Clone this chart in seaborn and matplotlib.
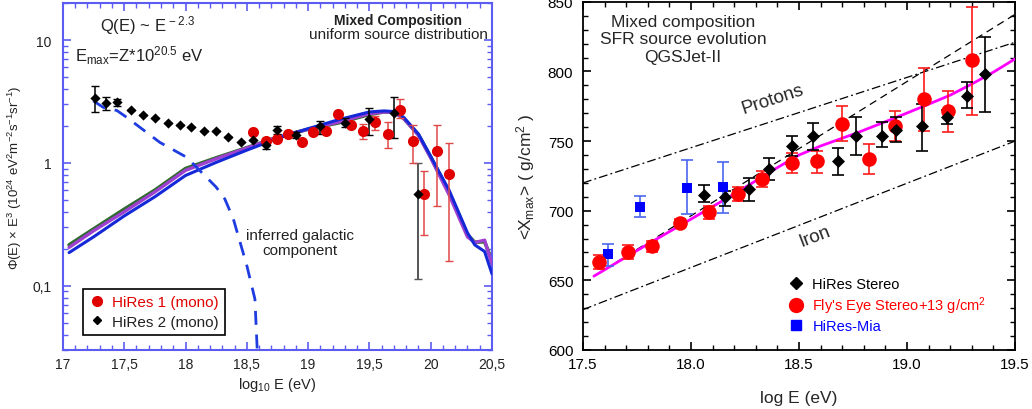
import numpy as np
import matplotlib
matplotlib.use("Agg")
import matplotlib.pyplot as plt
import seaborn as sns
from matplotlib.ticker import FixedLocator, MultipleLocator, FuncFormatter, NullFormatter
from matplotlib.lines import Line2D

# ---------------- LEFT PANEL DATA ----------------
hr2_x = [17.26, 17.35, 17.44, 17.555, 17.65, 17.75, 17.854, 17.954, 18.047, 18.148, 18.248,
         18.348, 18.452, 18.55, 18.653, 18.748, 18.898, 19.10, 19.30, 19.50, 19.70, 19.893]
hr2_y = [3.40, 3.06, 3.11, 2.68, 2.44, 2.31, 2.13, 2.05, 1.97, 1.81, 1.81,
         1.64, 1.47, 1.53, 1.41, 1.84, 1.70, 2.00, 2.13, 2.27, 2.56, 0.56]
hr2_lo = [2.58, 2.70, 2.92, 2.68, 2.44, 2.31, 2.13, 2.05, 1.97, 1.81, 1.81,
          1.64, 1.47, 1.53, 1.29, 1.71, 1.60, 1.72, 1.95, 1.68, 1.59, 0.114]
hr2_hi = [4.20, 3.46, 3.32, 2.68, 2.44, 2.31, 2.13, 2.05, 1.97, 1.81, 1.81,
          1.64, 1.47, 1.53, 1.55, 2.01, 1.80, 2.21, 2.30, 2.82, 3.42, 1.00]

hr1_x = [18.547, 18.653, 18.748, 18.84, 18.95, 19.04, 19.15, 19.245, 19.35, 19.45, 19.547,
         19.65, 19.75, 19.852, 19.947, 20.05, 20.148]
hr1_y = [1.80, 1.52, 1.57, 1.72, 1.49, 1.80, 1.83, 2.50, 2.05, 1.82, 2.14,
         1.73, 2.71, 1.52, 0.56, 1.24, 0.81]
hr1_lo = [1.80, 1.52, 1.57, 1.72, 1.49, 1.80, 1.83, 2.50, 2.05, 1.57, 1.85,
          1.33, 2.31, 1.00, 0.26, 0.45, 0.16]
hr1_hi = [1.80, 1.52, 1.57, 1.72, 1.49, 1.80, 1.83, 2.50, 2.05, 2.07, 2.40,
          2.17, 3.31, 2.04, 0.866, 2.04, 1.45]

model_x = [17.05, 17.25, 17.5, 17.75, 18.0, 18.25, 18.5, 18.75, 19.0, 19.25, 19.5,
           19.62, 19.7, 19.78, 19.9, 20.0, 20.15, 20.3, 20.36, 20.44, 20.5]
model_green = [0.215, 0.29, 0.42, 0.60, 0.90, 1.10, 1.33, 1.62, 1.88, 2.12, 2.48,
               2.60, 2.60, 2.30, 1.70, 1.12, 0.58, 0.26, 0.226, 0.228, 0.16]
model_purple = [0.205, 0.28, 0.40, 0.58, 0.87, 1.08, 1.32, 1.62, 1.88, 2.15, 2.52,
                2.60, 2.58, 2.30, 1.68, 1.10, 0.55, 0.25, 0.225, 0.235, 0.15]
model_blue = [0.186, 0.25, 0.37, 0.53, 0.79, 1.01, 1.27, 1.58, 1.90, 2.25, 2.60,
              2.65, 2.62, 2.35, 1.72, 1.13, 0.60, 0.27, 0.215, 0.19, 0.125]

gal_x = [17.247, 17.33, 17.44, 17.52, 17.79, 18.01, 18.25, 18.32, 18.39, 18.50, 18.566, 18.585]
gal_y = [3.20, 2.83, 2.67, 2.35, 1.47, 1.11, 0.635, 0.51, 0.35, 0.146, 0.078, 0.03]

# ---------------- RIGHT PANEL DATA ----------------
fly_x = [17.574, 17.707, 17.818, 17.948, 18.085, 18.219, 18.327, 18.468, 18.582, 18.70,
         18.824, 18.946, 19.08, 19.188, 19.30]
fly_y = [663.0, 670.6, 674.5, 691.2, 698.9, 712.1, 722.8, 734.1, 736.0, 762.4,
         737.2, 760.9, 780.3, 771.5, 808.1]
fly_lo = [5, 5, 4, 3, 4.5, 5, 6, 7, 8.8, 12, 10.8, 11, 22.8, 15, 39.5]
fly_hi = [5, 5, 4, 3, 4.5, 5, 6, 7, 7.2, 12.7, 10.6, 11, 22, 14.5, 38]

st_x = [18.06, 18.156, 18.269, 18.362, 18.468, 18.566, 18.679, 18.763, 18.886, 18.95,
        19.068, 19.184, 19.276, 19.361]
st_y = [711.6, 710.1, 715.7, 730.0, 746.3, 753.5, 735.5, 754.0, 754.0, 758.0,
        760.7, 767.0, 782.7, 798.3]
st_lo = [5.1, 6.4, 8.4, 7.7, 6.7, 9.6, 9.6, 13.7, 8.4, 9, 17.5, 5, 8.6, 27.5]
st_hi = [7.2, 4.3, 8.0, 8.0, 7.2, 9.4, 9.4, 13.6, 9.6, 9, 16.0, 5, 9.6, 26.3]

mia_x = [17.617, 17.764, 17.98, 18.15]
mia_y = [669.0, 702.5, 716.1, 716.9]
mia_lo = [8.4, 7.2, 18.4, 18.5]
mia_hi = [7.1, 8.3, 20.0, 18.4]

mix_x = [17.55, 17.8, 18.0, 18.2, 18.4, 18.5, 18.6, 18.77, 18.95, 19.1, 19.2, 19.3, 19.4, 19.5]
mix_y = [653, 676, 694, 712, 731, 740, 746.5, 756, 767, 776.5, 783, 791, 799.5, 809]

proton_x = [17.5, 19.5]
proton_y = [720, 821]
iron_x = [17.5, 19.5]
iron_y = [629, 750]
dash_x = [17.55, 19.5]
dash_y = [653, 841]

# ---------------- STYLE ----------------
sns.set_style("ticks")
plt.rcParams['font.family'] = ['Liberation Sans', 'DejaVu Sans']
plt.rcParams['mathtext.fontset'] = 'custom'
plt.rcParams['mathtext.rm'] = 'Liberation Sans'
plt.rcParams['mathtext.it'] = 'Liberation Sans:italic'
plt.rcParams['mathtext.bf'] = 'Liberation Sans:bold'
plt.rcParams['mathtext.default'] = 'regular'

fig = plt.figure(figsize=(10.32, 4.10), dpi=100)
axL = fig.add_axes([0.061, 0.144, 0.4157, 0.846])
axR = fig.add_axes([0.565, 0.144, 0.4185, 0.849])

# ---------------- LEFT PANEL ----------------
frame_c = '#5c5cf2'
axL.set_yscale('log')
sns.lineplot(x=model_x, y=model_green, ax=axL, color='#2e6b2e', lw=2.6, zorder=2)
sns.lineplot(x=model_x, y=model_purple, ax=axL, color='#a040d0', lw=2.4, zorder=3)
sns.lineplot(x=model_x, y=model_blue, ax=axL, color='#1428d8', lw=2.2, zorder=4)
sns.lineplot(x=gal_x, y=gal_y, ax=axL, color='#1e3ce0', lw=2.0, zorder=4, dashes=False,
             linestyle=(0, (5, 3.5)))

h2y = np.array(hr2_y); h1y = np.array(hr1_y)
axL.errorbar(hr2_x[:-1], hr2_y[:-1],
             yerr=[h2y[:-1] - np.array(hr2_lo[:-1]), np.array(hr2_hi[:-1]) - h2y[:-1]],
             fmt='none', ecolor='black', elinewidth=1.1, capsize=3, zorder=5)
axL.errorbar(hr2_x[-1:], hr2_y[-1:],
             yerr=[h2y[-1:] - np.array(hr2_lo[-1:]), np.array(hr2_hi[-1:]) - h2y[-1:]],
             fmt='none', ecolor='#555555', elinewidth=1.4, capsize=3, zorder=5)
axL.errorbar(hr1_x, hr1_y, yerr=[h1y - np.array(hr1_lo), np.array(hr1_hi) - h1y],
             fmt='none', ecolor='#e04848', elinewidth=1.1, capsize=3, zorder=5)
sns.scatterplot(x=hr1_x, y=hr1_y, ax=axL, marker='o', s=64, color='#e00000',
                linewidth=0, zorder=6)
sns.scatterplot(x=hr2_x, y=hr2_y, ax=axL, marker='D', s=27, color='black',
                linewidth=0, zorder=7)

axL.set_xlim(17, 20.5)
axL.set_ylim(0.03, 20)
axL.xaxis.set_major_locator(FixedLocator([17, 17.5, 18, 18.5, 19, 19.5, 20, 20.5]))
axL.xaxis.set_minor_locator(MultipleLocator(0.1))
axL.xaxis.set_major_formatter(FuncFormatter(lambda v, p: ('%g' % v).replace('.', ',')))
axL.yaxis.set_major_locator(FixedLocator([0.1, 1, 10]))
axL.yaxis.set_major_formatter(FuncFormatter(lambda v, p: ('%g' % v).replace('.', ',')))
minors = [m * 10.0 ** e for e in (-2, -1, 0, 1) for m in range(2, 10)]
axL.yaxis.set_minor_locator(FixedLocator(minors))
axL.yaxis.set_minor_formatter(NullFormatter())
axL.tick_params(which='both', direction='in', top=True, right=True, color=frame_c,
                labelcolor='#222222', labelsize=10)
axL.tick_params(which='major', length=6, width=1.2)
axL.tick_params(which='minor', length=3.5, width=1.0)
axL.tick_params(axis='y', pad=8)
axL.tick_params(axis='x', pad=5)
for sp in axL.spines.values():
    sp.set_color(frame_c)
    sp.set_linewidth(1.5)
axL.set_xlabel('log$_{10}$ E (eV)', fontsize=10.5, color='#222222', labelpad=3)
axL.set_ylabel('Φ(E) × E$^{3}$ (10$^{24}$ eV$^{2}$m$^{-2}$s$^{-1}$sr$^{-1}$)',
               fontsize=9.5, color='#222222', labelpad=6)

axL.text(17.30, 13.4, 'Q(E) ~ E$^{\\,-2.3}$', fontsize=12, va='center', ha='left', color='#222222')
axL.text(17.10, 7.6, 'E$_{max}$=Z*10$^{20.5}$ eV', fontsize=12, va='center', ha='left', color='#222222')
axL.text(0.781, 0.951, 'Mixed Composition', transform=axL.transAxes, fontsize=10,
         fontweight='bold', ha='center', va='center', color='#222222')
axL.text(0.781, 0.911, 'uniform source distribution', transform=axL.transAxes, fontsize=11,
         ha='center', va='center', color='#222222')
axL.text(18.93, 0.224, 'inferred galactic\ncomponent', fontsize=11, ha='center', va='center',
         color='#222222', linespacing=1.05)

hL = [Line2D([], [], marker='o', color='#e00000', ls='', ms=7),
      Line2D([], [], marker='D', color='black', ls='', ms=4.4)]
legL = axL.legend(hL, ['HiRes 1 (mono)', 'HiRes 2 (mono)'], loc='lower left',
                  bbox_to_anchor=(0.047, 0.044), borderaxespad=0, fontsize=11,
                  labelcolor=['#e00000', '#222222'], frameon=True, fancybox=False,
                  framealpha=1, edgecolor='black', handlelength=1.0, handletextpad=0.5,
                  labelspacing=0.35, borderpad=0.4)
legL.get_frame().set_linewidth(1.2)

# ---------------- RIGHT PANEL ----------------
sns.lineplot(x=proton_x, y=proton_y, ax=axR, color='black', lw=0.9, zorder=2,
             linestyle=(0, (7, 2.5, 1.5, 2.5)))
sns.lineplot(x=iron_x, y=iron_y, ax=axR, color='black', lw=0.9, zorder=2,
             linestyle=(0, (7, 2.5, 1.5, 2.5)))
sns.lineplot(x=dash_x, y=dash_y, ax=axR, color='black', lw=0.9, zorder=2,
             linestyle=(0, (6, 4)))
sns.lineplot(x=mix_x, y=mix_y, ax=axR, color='#ff00ff', lw=2.0, zorder=3)

axR.errorbar(mia_x, mia_y, yerr=[mia_lo, mia_hi], fmt='none', ecolor='#4a66f0',
             elinewidth=1.2, capsize=4.5, capthick=1.2, zorder=4)
axR.errorbar(fly_x, fly_y, yerr=[fly_lo, fly_hi], fmt='none', ecolor='#ff1a1a',
             elinewidth=1.2, capsize=4.5, capthick=1.2, zorder=4)
axR.errorbar(st_x, st_y, yerr=[st_lo, st_hi], fmt='none', ecolor='black',
             elinewidth=1.2, capsize=4.5, capthick=1.2, zorder=4)
sns.scatterplot(x=mia_x, y=mia_y, ax=axR, marker='s', s=60, color='#0000ff',
                linewidth=0, zorder=5)
sns.scatterplot(x=fly_x, y=fly_y, ax=axR, marker='o', s=110, color='#ff0000',
                linewidth=0, zorder=6)
sns.scatterplot(x=st_x, y=st_y, ax=axR, marker='D', s=44, color='black',
                linewidth=0, zorder=7)

axR.set_xlim(17.5, 19.5)
axR.set_ylim(600, 850)
axR.xaxis.set_major_locator(MultipleLocator(0.5))
axR.xaxis.set_minor_locator(MultipleLocator(0.1))
axR.xaxis.set_major_formatter(FuncFormatter(lambda v, p: '%.1f' % v))
axR.yaxis.set_major_locator(MultipleLocator(50))
axR.yaxis.set_minor_locator(MultipleLocator(10))
axR.tick_params(which='both', direction='in', top=True, right=True, color='black',
                labelcolor='black', labelsize=11)
axR.tick_params(which='major', length=6, width=1.2)
axR.tick_params(which='minor', length=3.5, width=1.0)
axR.tick_params(axis='y', pad=7)
axR.tick_params(axis='x', pad=5)
for sp in axR.spines.values():
    sp.set_color('black')
    sp.set_linewidth(1.3)
axR.set_xlabel('log E (eV)', fontsize=12.5, labelpad=14)
axR.set_ylabel('<X$_{max}$> ( g/cm$^{2}$ )', fontsize=12.5, labelpad=8)

axR.text(0.231, 0.965, 'Mixed composition\nSFR source evolution\nQGSJet-II',
         transform=axR.transAxes, ha='center', va='top', fontsize=12.5, linespacing=1.2)
axR.text(18.38, 780.3, 'Protons', fontsize=13.5, ha='center', va='center', rotation=18)
axR.text(18.574, 682, 'Iron', fontsize=13.5, ha='center', va='center', rotation=21)

hR = [Line2D([], [], marker='D', color='black', ls='', ms=6.3),
      Line2D([], [], marker='o', color='#ff0000', ls='', ms=10),
      Line2D([], [], marker='s', color='#0000ff', ls='', ms=7.5)]
axR.legend(hR, ['HiRes Stereo', "Fly's Eye Stereo+13 g/cm$^{2}$", 'HiRes-Mia'],
           loc='upper left', bbox_to_anchor=(0.477, 0.21), borderaxespad=0,
           fontsize=10.5, labelcolor=['black', '#ff0000', '#0000ff'], frameon=False,
           handlelength=1.0, handletextpad=0.6, labelspacing=0.22, borderpad=0.0)

fig.savefig('out.png', dpi=100)
